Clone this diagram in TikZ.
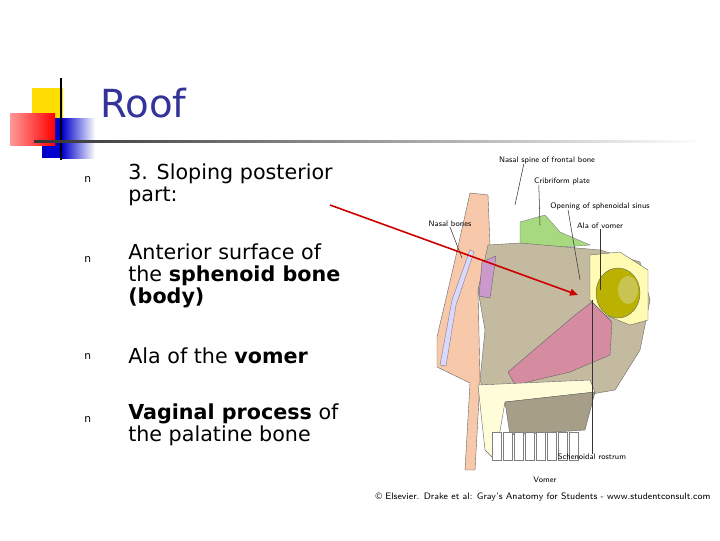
\documentclass[tikz,border=0pt]{standalone}
\usepackage{fontspec}
\setmainfont{DejaVu Sans}
\usetikzlibrary{arrows.meta}
\definecolor{ttl}{RGB}{51,51,153}
\definecolor{skin}{RGB}{248,200,170}
\definecolor{bone}{RGB}{196,186,160}
\definecolor{mauve}{RGB}{214,140,160}
\begin{document}
\begin{tikzpicture}[x=0.75pt,y=-0.75pt,
  body/.style={anchor=north west,align=left,font=\fontsize{15.5}{16.5}\selectfont,inner sep=0},
  bul/.style={anchor=north west,font=\fontsize{8}{8}\selectfont,inner sep=0},
  lab/.style={font=\fontsize{6}{6}\selectfont\sffamily,inner sep=0},
  lead/.style={black!80,line width=0.4pt}]
\useasboundingbox (0,0) rectangle (720,540);
\fill[white] (0,0) rectangle (720,540);
% logo
\fill[yellow!80!orange] (32,88) rectangle (63,120);
\fill[blue!80!black] (42,118) rectangle (62,158);
\shade[left color=blue!80!black,right color=white] (62,118) rectangle (95,158);
\shade[left color=red!40!white,right color=red] (10,113) rectangle (55,145);
\draw[line width=1.5pt] (61,78) -- (61,160);
\shade[left color=black!80,right color=white] (34,140) rectangle (705,142.5);
\node[anchor=west,text=ttl,font=\fontsize{29}{29}\selectfont,inner sep=0] (title) at (100,103) {Roof};
% bullets
\node[bul] (b1) at (84,176) {n};
\node[body] (t1) at (128,164) {3. Sloping posterior\\part:};
\node[bul] (b2) at (84,256) {n};
\node[body] (t2) at (128,244) {Anterior surface of\\the \textbf{sphenoid bone}\\\textbf{(body)}};
\node[bul] (b3) at (84,353) {n};
\node[body] (t3) at (128,348) {Ala of the \textbf{vomer}};
\node[bul] (b4) at (84,416) {n};
\node[body] (t4) at (128,404) {\textbf{Vaginal process} of\\the palatine bone};
% anatomy
\fill[skin,draw=black!60,line width=0.3pt] (470,193) -- (488,195) -- (490,245) -- (478,290) -- (480,380) -- (475,470) -- (465,470) -- (470,383) -- (437,367) -- (437,337) -- (455,260) -- cycle;
\fill[blue!15,draw=black!50,line width=0.3pt] (440,365) -- (452,300) -- (470,250) -- (474,252) -- (456,305) -- (446,366) -- cycle;
\fill[green!40!olive!50,draw=black!50,line width=0.3pt] (520,222) -- (545,215) -- (560,232) -- (590,245) -- (520,250) -- cycle;
\fill[bone,draw=black!60,line width=0.3pt] (488,245) -- (520,243) -- (600,250) -- (640,262) -- (650,300) -- (640,350) -- (615,390) -- (580,396) -- (520,400) -- (490,410) -- (480,380) -- (485,330) -- (478,290) -- cycle;
\fill[yellow!30!white,draw=black!60,line width=0.3pt] (590,255) -- (620,252) -- (648,270) -- (648,320) -- (630,325) -- (605,315) -- (590,300) -- cycle;
\fill[olive!60!yellow,draw=black!60,line width=0.3pt] (618,293) ellipse (22 and 25);
\fill[olive!80!yellow!60] (628,290) ellipse (10 and 14);
\fill[mauve,draw=black!60,line width=0.3pt] (508,372) -- (575,315) -- (592,302) -- (612,322) -- (610,355) -- (570,372) -- (515,385) -- cycle;
\fill[violet!40,draw=black!60,line width=0.3pt] (482,262) -- (496,256) -- (490,298) -- (479,296) -- cycle;
\fill[yellow!15!white,draw=black!60,line width=0.3pt] (478,385) -- (590,380) -- (595,392) -- (505,402) -- (495,460) -- (485,450) -- cycle;
\fill[bone!85!black,draw=black!60,line width=0.3pt] (505,402) -- (595,392) -- (585,430) -- (510,435) -- cycle;
\foreach \i in {0,...,7} \fill[white,draw=black!50,line width=0.3pt] (492+\i*11,432) rectangle (501+\i*11,460);
% labels
\node[lab] (l1) at (547,160) {Nasal spine of frontal bone};
\node[lab] (l2) at (562,181) {Cribriform plate};
\node[lab] (l3) at (600,206) {Opening of sphenoidal sinus};
\node[lab] (l4) at (600,226) {Ala of vomer};
\node[lab] (l5) at (450,224) {Nasal bones};
\node[lab] (l6) at (592,457) {Schenoidal rostrum};
\node[lab] (l7) at (545,480) {Vomer};
\coordinate (e1) at (515,205); \coordinate (e2) at (540,225);
\coordinate (e3) at (580,280); \coordinate (e4) at (600,290);
\coordinate (e5) at (462,258); \coordinate (e6) at (592,300);
\draw[lead] (l1.south west)++(25,0) -- (e1);
\draw[lead] (l2.south west)++(5,0) -- (e2);
\draw[lead] (l3.south west)++(18,0) -- (e3);
\draw[lead] (l4.south) -- (e4);
\draw[lead] (l5.south) -- (e5);
\draw[lead] (l6.north) -- (e6);
\node[lab,font=\fontsize{7}{7}\selectfont\sffamily] (cp) at (543,497) {© Elsevier. Drake et al: Gray's Anatomy for Students - www.studentconsult.com};
% arrow
\coordinate (a0) at (330,205); \coordinate (a1) at (578,295);
\draw[red!80!black,line width=1.2pt,-{Triangle[length=6pt,width=5pt]}] (a0) -- (a1);
\end{tikzpicture}
\end{document}
